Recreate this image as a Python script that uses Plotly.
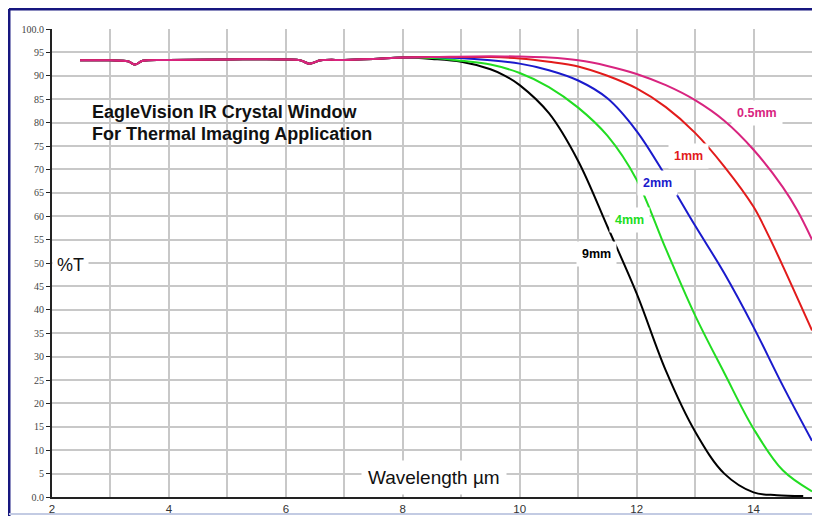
import plotly.graph_objects as go

# Shared flat region (all thicknesses overlap here)
flat_x = [2.48, 3.0, 3.3, 3.42, 3.55, 4.0, 5.0, 6.0, 6.25, 6.4, 6.6, 7.0, 7.5, 8.0]
flat_y = [93.3, 93.3, 93.1, 92.4, 93.2, 93.4, 93.5, 93.5, 93.3, 92.6, 93.3, 93.4, 93.6, 93.9]

# Roll-off parts, per thickness
x_9mm = [8.5, 9.0, 9.5, 9.75, 10.0, 10.5, 11.0, 11.5, 12.0, 12.5, 13.0, 13.5, 14.0, 14.4, 14.85]
y_9mm = [93.6, 93.0, 91.4, 90.0, 88.0, 82.0, 71.8, 57.8, 43.5, 27.0, 14.0, 5.0, 1.0, 0.4, 0.2]

x_4mm = [8.5, 9.0, 9.5, 10.0, 10.5, 11.0, 11.5, 12.0, 12.5, 13.0, 13.5, 14.0, 14.5, 15.0]
y_4mm = [93.8, 93.2, 92.4, 90.6, 87.6, 83.2, 77.2, 67.8, 53.0, 38.8, 26.5, 14.6, 5.7, 1.2]

x_2mm = [8.5, 9.5, 10.0, 10.5, 11.0, 11.5, 12.0, 12.5, 13.0, 13.5, 14.0, 14.5, 15.0]
y_2mm = [94.0, 93.3, 92.6, 91.2, 89.0, 85.2, 78.2, 68.5, 58.0, 47.8, 36.3, 23.8, 12.0]

x_1mm = [8.5, 9.5, 10.0, 10.5, 11.0, 11.5, 12.0, 12.5, 13.0, 13.5, 14.0, 14.25, 14.5, 15.0]
y_1mm = [94.0, 94.0, 93.7, 93.0, 92.0, 90.0, 87.3, 83.3, 77.8, 70.6, 62.0, 56.0, 49.4, 35.6]

x_05mm = [8.5, 9.5, 10.0, 10.5, 11.0, 11.5, 12.0, 12.5, 13.0, 13.5, 14.0, 14.5, 14.75, 15.0]
y_05mm = [94.0, 94.2, 94.1, 93.9, 93.3, 92.1, 90.4, 88.0, 84.8, 80.4, 74.2, 66.2, 61.2, 55.0]

labels = ["9mm", "4mm", "2mm", "1mm", "0.5mm"]
colors = ["#000000", "#22dd22", "#1a1acc", "#e21b1b", "#d8247f"]
label_x = [11.32, 11.87, 12.35, 12.88, 14.06]
label_y = [51.9, 59.2, 67.1, 72.9, 82.0]

ytick_vals = [0, 5, 10, 15, 20, 25, 30, 35, 40, 45, 50, 55, 60, 65, 70, 75, 80, 85, 90, 95, 100]
ytick_text = ["0.0", "5", "10", "15", "20", "25", "30", "35", "40", "45", "50", "55", "60",
              "65", "70", "75", "80", "85", "90", "95", "100.0"]
xtick_vals = [2, 4, 6, 8, 10, 12, 14]

series_x = [x_9mm, x_4mm, x_2mm, x_1mm, x_05mm]
series_y = [y_9mm, y_4mm, y_2mm, y_1mm, y_05mm]

fig = go.Figure()
for sx, sy, c, name in zip(series_x, series_y, colors, labels):
    fig.add_trace(go.Scatter(
        x=flat_x + sx, y=flat_y + sy, mode="lines", name=name,
        line=dict(color=c, width=2, shape="spline", smoothing=1.0),
        showlegend=False, hoverinfo="skip"))

for name, c, lx, ly in zip(labels, colors, label_x, label_y):
    fig.add_annotation(x=lx, y=ly, text=f"<b>{name}</b>", showarrow=False,
                       font=dict(family="Liberation Sans, Arial", size=12.5, color=c),
                       bgcolor="white", borderpad=5)

fig.add_annotation(x=2.65, y=82.3, text="<b>EagleVision IR Crystal Window</b>", showarrow=False,
                   xanchor="left", font=dict(family="Liberation Sans, Arial", size=18, color="#111"))
fig.add_annotation(x=2.65, y=77.6, text="<b>For Thermal Imaging Application</b>", showarrow=False,
                   xanchor="left", font=dict(family="Liberation Sans, Arial", size=18, color="#111"))
fig.add_annotation(x=2.32, y=49.6, text="%T", showarrow=False,
                   font=dict(family="Liberation Sans, Arial", size=18, color="#111"),
                   bgcolor="white", borderpad=4)
fig.add_annotation(x=8.53, y=4.1, text="Wavelength µm", showarrow=False,
                   font=dict(family="Liberation Sans, Arial", size=19, color="#111"),
                   bgcolor="white", borderpad=6)

# outer frame
fig.add_shape(type="line", xref="paper", yref="paper", x0=-0.0566, x1=1.03, y0=1.0427, y1=1.0427,
              line=dict(color="#16167f", width=3))
fig.add_shape(type="line", xref="paper", yref="paper", x0=-0.0566, x1=-0.0566, y0=1.0427, y1=-0.06,
              line=dict(color="#16167f", width=3))
fig.add_shape(type="line", xref="paper", yref="paper", x0=-0.0566, x1=1.03, y0=-0.0365, y1=-0.0365,
              line=dict(color="#c3cbe3", width=2))

fig.update_layout(
    width=820, height=516,
    margin=dict(l=44, r=16, t=21, b=27),
    paper_bgcolor="white", plot_bgcolor="white",
    xaxis=dict(range=[2, 15], tickvals=xtick_vals, showgrid=True, gridcolor="#c8c8c8", gridwidth=2,
               minor=dict(dtick=1, showgrid=True, gridcolor="#c8c8c8", gridwidth=2, tick0=2),
               showline=True, linecolor="#222", linewidth=2, ticks="",
               zeroline=False, automargin=False,
               tickfont=dict(family="Liberation Sans, Arial", size=11.5, color="#333")),
    yaxis=dict(range=[0, 100], tickvals=ytick_vals, ticktext=ytick_text, showgrid=True,
               gridcolor="#c8c8c8", gridwidth=2, showline=True, linecolor="#222", linewidth=2,
               ticks="outside", ticklen=4, tickcolor="#222", zeroline=False, automargin=False,
               tickfont=dict(family="Liberation Serif, Times New Roman", size=10, color="#444")),
)

fig.write_html("out.html")
